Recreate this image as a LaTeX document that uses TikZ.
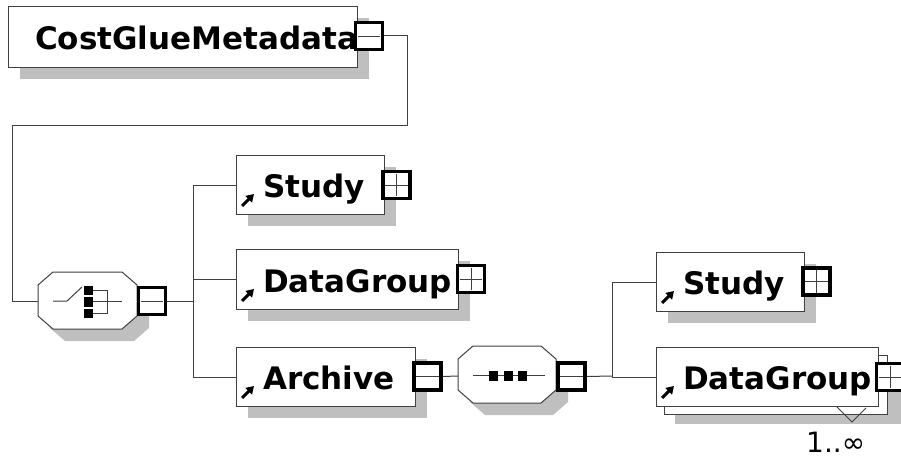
\documentclass[tikz,border=0pt]{standalone}
\usepackage{fontspec}
\setmainfont{DejaVu Sans}
\usetikzlibrary{arrows.meta,calc}

\tikzset{
  shade/.style={fill=black!25, draw=none},
  elbox/.style={draw=black!75, fill=white, line width=1pt, inner sep=0pt},
  conn/.style={draw=black!75, line width=1pt},
  toggle/.style={draw=black, line width=3.5pt, fill=white, minimum size=27pt, inner sep=0pt},
  sign/.style={draw=black!75, line width=0.9pt},
  elname/.style={font=\fontsize{31}{36}\selectfont\bfseries, anchor=base west, inner sep=0pt},
  refarrow/.style={line width=3pt, -{Triangle[length=7.5pt,width=9pt]}},
  compo/.style={draw=black!75, fill=white, line width=1pt},
}

% element box: name, x1, y1, x2, y2 (y grows downwards)
\newcommand\elembox[5]{%
  \fill[shade] (#2+12,#3+12) rectangle (#4+12,#5+12);
  \node[elbox, anchor=north west, minimum width={(#4-#2)*1pt}, minimum height={(#5-#3)*1pt}] (#1) at (#2,#3) {};
}
% reference arrow in the lower left corner of a box
\newcommand\refmark[1]{%
  \draw[refarrow] ($(#1.south west)+(6,-9)$) -- ($(#1.south west)+(18,-21)$);
}
% collapse / expand toggles
\newcommand\minusbox[2]{%
  \node[toggle] (#1) at #2 {};
  \draw[sign] ($(#1.west)+(4,0)$) -- ($(#1.east)+(-4,0)$);
}
\newcommand\plusbox[2]{%
  \node[toggle] (#1) at #2 {};
  \draw[sign] ($(#1.west)+(4,0)$) -- ($(#1.east)+(-4,0)$);
  \draw[sign] ($(#1.north)+(0,4)$) -- ($(#1.south)+(0,-4)$);
}
% octagonal compositor: x1, y1, x2, y2
\newcommand\octa[4]{%
  \fill[shade] (#1+12,#2+13+12) -- (#1+15+12,#2+12) -- (#3-15+12,#2+12) -- (#3+12,#2+13+12)
     -- (#3+12,#4-13+12) -- (#3-15+12,#4+12) -- (#1+15+12,#4+12) -- (#1+12,#4-13+12) -- cycle;
  \draw[compo] (#1,#2+13) -- (#1+15,#2) -- (#3-15,#2) -- (#3,#2+13)
     -- (#3,#4-13) -- (#3-15,#4) -- (#1+15,#4) -- (#1,#4-13) -- cycle;
}

\begin{document}
\begin{tikzpicture}[x=1pt,y=-1pt]
\useasboundingbox (0,0) rectangle (901,457);
\fill[white] (0,0) rectangle (901,457);

% ---- root element ----
\elembox{cgm}{8}{6}{357}{67}
\node[elname] (cgmname) at ($(cgm.west)+(27,12.5)$) {CostGlueMetadata};
\minusbox{cgmT}{(369,36)}

% ---- choice compositor ----
\octa{38}{272}{137}{329}
\coordinate (chW) at (38,301);
\coordinate (chE) at (137,301);
% choice symbol
\draw[conn] (53,301) -- (67,301) -- (82,287);
\fill[black] (84,286) rectangle (93,295);
\fill[black] (84,297) rectangle (93,307);
\fill[black] (84,309) rectangle (93,318);
\draw[conn] (93,290) -- (107,290) -- (107,313) -- (93,313);
\draw[conn] (93,301) -- (122,301);
\minusbox{chT}{(152,301)}

\draw[conn] (cgmT.east) -- (407,36) -- (407,126) -- (12,126) -- (12,301) -- (chW);

% ---- children of the choice ----
\elembox{study}{236}{155}{384}{214}
\node[elname] at ($(study.west)+(27,12.5)$) {Study};
\refmark{study}
\plusbox{studyT}{(396.5,185)}

\elembox{dg}{236}{249}{458}{309}
\node[elname] at ($(dg.west)+(27,12.5)$) {DataGroup};
\refmark{dg}
\plusbox{dgT}{(471,279)}

\elembox{arch}{236}{347}{415}{406}
\node[elname] at ($(arch.west)+(27,12.5)$) {Archive};
\refmark{arch}
\minusbox{archT}{(427.5,376.5)}

\coordinate (bus1) at (193,301);
\draw[conn] (chT.east) -- (bus1);
\draw[conn] (study.west) -| (bus1);
\draw[conn] (dg.west) -| (bus1);
\draw[conn] (arch.west) -| (bus1);

% ---- sequence compositor ----
\octa{458}{346}{556}{403}
\coordinate (sqW) at (458,376);
\draw[conn] (473,375) -- (545,375);
\fill[black] (489,371) rectangle (498,381);
\fill[black] (504,371) rectangle (513,381);
\fill[black] (518,371) rectangle (527,381);
\minusbox{sqT}{(571.5,376.5)}
\draw[conn] (archT.east) -- (sqW);

% ---- children of the sequence ----
\elembox{study2}{656}{252}{804}{311}
\node[elname] at ($(study2.west)+(27,12.5)$) {Study};
\refmark{study2}
\plusbox{study2T}{(816.5,281.5)}

% repeated element: stacked boxes
\fill[shade] (675,366) rectangle (905,424);
\draw[elbox] (664,355) rectangle (887,414);
\draw[conn] (836,406) -- (852,422) -- (866,408);
\node[elbox, anchor=north west, minimum width=222pt, minimum height=59pt] (dg2) at (656,347) {};
\node[elname] at ($(dg2.west)+(27,12.5)$) {DataGroup};
\refmark{dg2}
\plusbox{dg2T}{(890,377)}
\node[font=\fontsize{28}{32}\selectfont, anchor=base west, inner sep=0pt] (mult) at (806,452) {1..∞};

\coordinate (bus2) at (612,376);
\draw[conn] (sqT.east) -- (bus2);
\draw[conn] (study2.west) -| (bus2);
\draw[conn] (dg2.west) -| (bus2);
\end{tikzpicture}
\end{document}
